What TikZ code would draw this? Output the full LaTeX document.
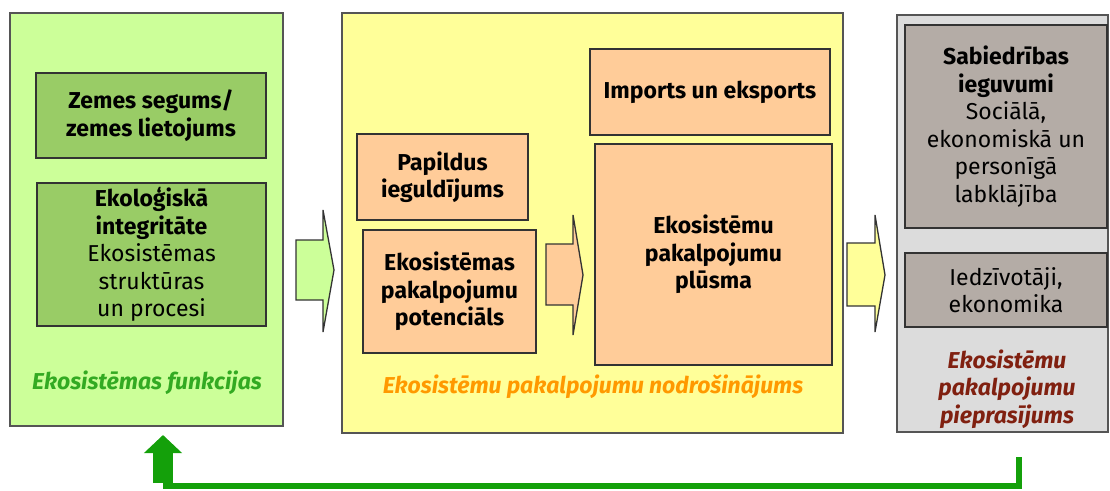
\documentclass[tikz,border=0pt]{standalone}
\usepackage{fontspec}
\setmainfont{Fira Sans}
\usetikzlibrary{arrows.meta}

\definecolor{funkfill}{RGB}{204,255,153}
\definecolor{funkinner}{RGB}{153,204,102}
\definecolor{nodrfill}{RGB}{255,255,153}
\definecolor{salmon}{RGB}{255,204,153}
\definecolor{piepfill}{RGB}{220,220,220}
\definecolor{piepinner}{RGB}{180,172,166}
\definecolor{edge}{RGB}{51,51,51}
\definecolor{paneledge}{RGB}{85,85,85}
\definecolor{labgreen}{RGB}{51,170,34}
\definecolor{laborange}{RGB}{255,153,0}
\definecolor{labred}{RGB}{128,32,16}
\definecolor{fbgreen}{RGB}{20,160,10}

\tikzset{
  panel/.style={draw=paneledge, line width=1.3pt, inner sep=0pt},
  box/.style={draw=edge, line width=1.3pt, inner sep=0pt, align=center,
    font=\fontsize{23}{27.5}\selectfont},
  panellabel/.style={align=center, font=\fontsize{23}{27.5}\selectfont\bfseries\itshape},
  blockarrow/.style={draw=edge, line width=1.3pt, line join=miter},
}

\begin{document}
\begin{tikzpicture}[x=1pt, y=-1pt]
  \useasboundingbox (0,0) rectangle (1110,490);

  % ekosistemas funkcijas
  \node[panel, fill=funkfill, minimum width=273pt, minimum height=413pt] (funk) at (146.5,219.5) {};
  \node[box, fill=funkinner, minimum width=230pt, minimum height=85pt] (segums) at (151,115.5)
    {\bfseries Zemes segums/\\\bfseries zemes lietojums};
  \node[box, fill=funkinner, minimum width=229pt, minimum height=143pt] (integr) at (151.5,254.5)
    {\bfseries Ekoloģiskā\\\bfseries integritāte\\Ekosistēmas\\struktūras\\un procesi};
  \node[panellabel, text=labgreen] (funklab) at (147,383) {Ekosistēmas funkcijas};

  % pakalpojumu nodrosinajums
  \node[panel, fill=nodrfill, minimum width=501pt, minimum height=420pt] (nodr) at (592.5,223) {};
  \node[box, fill=salmon, minimum width=240pt, minimum height=86pt] (imports) at (710,92)
    {\bfseries Imports un eksports};
  \node[box, fill=salmon, minimum width=171pt, minimum height=86pt] (papildus) at (442.5,177)
    {\bfseries Papildus\\\bfseries ieguldījums};
  \node[box, fill=salmon, minimum width=173pt, minimum height=123pt] (potenc) at (449.5,291.5)
    {\bfseries Ekosistēmas\\\bfseries pakalpojumu\\\bfseries potenciāls};
  \node[box, fill=salmon, minimum width=237pt, minimum height=221pt] (plusma) at (713.5,254.5)
    {\bfseries Ekosistēmu\\\bfseries pakalpojumu\\\bfseries plūsma};
  \node[panellabel, text=laborange] (nodrlab) at (593,387) {Ekosistēmu pakalpojumu nodrošinājums};

  % pakalpojumu pieprasijums
  \node[panel, fill=piepfill, minimum width=211pt, minimum height=417pt] (piep) at (1002.5,223.5) {};
  \node[box, fill=piepinner, minimum width=202pt, minimum height=203pt] (sabiedr) at (1006,126.5)
    {\bfseries Sabiedrības\\\bfseries ieguvumi\\Sociālā,\\ekonomiskā un\\personīgā\\labklājība};
  \node[box, fill=piepinner, minimum width=202pt, minimum height=74pt] (iedz) at (1006,290)
    {Iedzīvotāji,\\ekonomika};
  \node[panellabel, text=labred] (pieplab) at (1007,389) {Ekosistēmu\\pakalpojumu\\pieprasījums};

  % block arrows
  \draw[blockarrow, fill=funkfill] (296,240) -- (323,240) -- (323,210) -- (334,270)
    -- (323,332) -- (323,300) -- (296,300) -- cycle;
  \draw[blockarrow, fill=salmon] (546,244) -- (573,244) -- (573,215) -- (583,275)
    -- (573,335) -- (573,305) -- (546,305) -- cycle;
  \draw[blockarrow, fill=nodrfill] (847,243) -- (875,243) -- (875,215) -- (885,275)
    -- (875,332) -- (875,306) -- (847,306) -- cycle;

  % feedback
  \coordinate (fbstart) at (1018.5,457);
  \coordinate (fbcorner) at (163,486);
  \coordinate (fbtip) at (163,435);
  \draw[fbgreen, line width=6pt, line join=miter] (fbstart) |- (fbcorner);
  \draw[fbgreen, line width=20pt, -{Triangle[width=37pt, length=18pt]}]
    ([yshift=3pt]fbcorner) -- (fbtip);
\end{tikzpicture}
\end{document}
